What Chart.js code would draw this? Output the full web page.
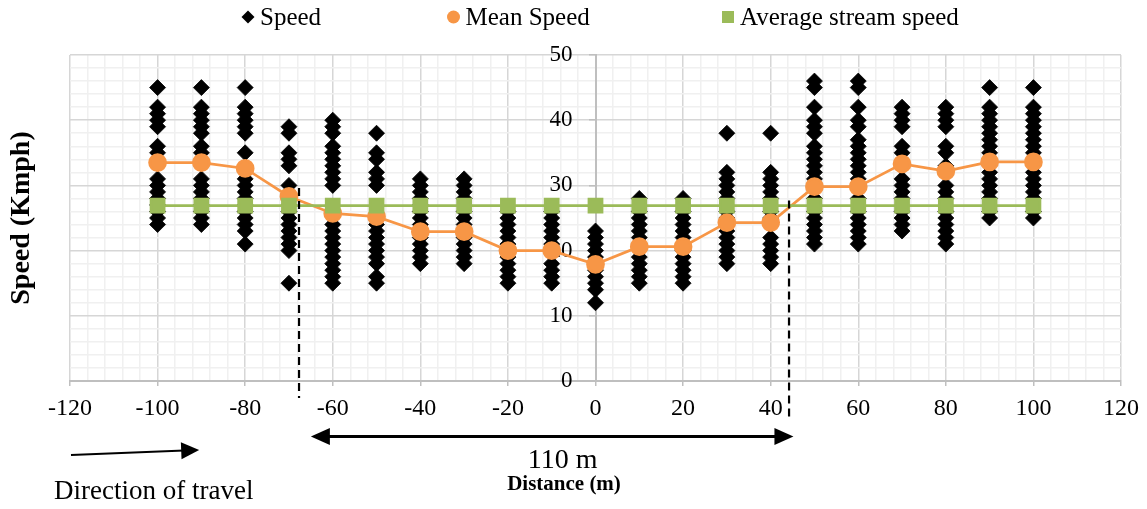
<!DOCTYPE html>
<html>
<head>
<meta charset="utf-8">
<script src="https://cdn.jsdelivr.net/npm/chart.js@4.4.1/dist/chart.umd.min.js"></script>
<style>
  html, body { margin: 0; padding: 0; background: #ffffff; }
  #wrap { width: 1147px; height: 509px; position: relative; }
</style>
</head>
<body>
<div id="wrap"><canvas id="chart"></canvas></div>
<script>
// Measurement stations along the road (m)
const distances = [-100, -90, -80, -70, -60, -50, -40, -30, -20, -10, 0, 10, 20, 30, 40, 50, 60, 70, 80, 90, 100];

// Individual spot speeds recorded at each station (km/h)
const speedSamples = [
  [45, 42, 41, 40, 39, 36, 35, 31, 30, 29, 28, 27, 26, 25, 24],
  [45, 42, 41, 40, 39, 38, 36, 35, 31, 30, 29, 28, 27, 26, 25, 24],
  [45, 42, 41, 40, 39, 38, 35, 31, 30, 29, 28, 27, 26, 25, 24, 23, 21],
  [39, 38, 35, 34, 33, 30, 27, 26, 25, 24, 23, 22, 21, 20, 15],
  [40, 39, 38, 36, 35, 34, 33, 32, 31, 30, 24, 23, 22, 21, 20, 19, 18, 17, 16, 15],
  [38, 35, 34, 32, 31, 30, 24, 23, 22, 21, 20, 19, 18, 16, 15],
  [31, 30, 29, 28, 27, 26, 25, 24, 22, 21, 20, 19, 18],
  [31, 30, 29, 28, 26, 25, 24, 23, 22, 21, 20, 19, 18],
  [26, 25, 24, 23, 22, 21, 19, 18, 17, 16, 15],
  [26, 25, 24, 23, 22, 21, 20, 18, 17, 16, 15],
  [23, 22, 21, 20, 19, 17, 16, 15, 14, 12],
  [28, 26, 25, 24, 23, 22, 21, 19, 18, 17, 16, 15],
  [28, 26, 25, 24, 23, 22, 20, 19, 18, 17, 16, 15],
  [38, 32, 31, 30, 29, 28, 26, 25, 23, 22, 21, 20, 19, 18],
  [38, 32, 31, 30, 29, 28, 26, 25, 24, 22, 21, 20, 19, 18],
  [46, 45, 42, 40, 39, 38, 36, 35, 34, 33, 32, 31, 30, 28, 26, 25, 24, 23, 22, 21],
  [46, 45, 42, 40, 39, 37, 36, 35, 34, 33, 32, 31, 30, 28, 26, 25, 24, 23, 22, 21],
  [42, 41, 40, 39, 36, 35, 31, 30, 29, 28, 26, 25, 24, 23],
  [42, 41, 40, 39, 36, 35, 33, 30, 29, 28, 26, 25, 24, 23, 22, 21],
  [45, 42, 41, 40, 39, 38, 37, 36, 35, 34, 32, 31, 30, 29, 28, 26, 25],
  [45, 42, 41, 40, 39, 38, 37, 36, 35, 34, 32, 31, 30, 29, 28, 26, 25]
];

// Mean speed at each station (km/h)
const meanSpeed = [33.5, 33.5, 32.6, 28.3, 25.7, 25.2, 22.9, 22.9, 20.0, 20.0, 17.9, 20.6, 20.6, 24.3, 24.3, 29.8, 29.8, 33.3, 32.2, 33.6, 33.6];

// Average stream speed (km/h), same at every station
const streamSpeed = [26.9, 26.9, 26.9, 26.9, 26.9, 26.9, 26.9, 26.9, 26.9, 26.9, 26.9, 26.9, 26.9, 26.9, 26.9, 26.9, 26.9, 26.9, 26.9, 26.9, 26.9];

// Labelled ticks on each axis
const xTickLabels = [-120, -100, -80, -60, -40, -20, 0, 20, 40, 60, 80, 100, 120];
const yTickLabels = [0, 10, 20, 30, 40, 50];

// Extent of the influence zone (m) and its annotation
const zoneStart = -67.7;
const zoneEnd = 44.2;
const zoneLabel = '110 m';

const SERIF = '"Liberation Serif", "Times New Roman", serif';
const MAJOR_GRID = '#d6d6d6';
const MINOR_GRID = '#f0f0f0';
const AXIS_LINE = '#bfbfbf';

const speedPoints = [];
distances.forEach((d, i) => speedSamples[i].forEach(v => speedPoints.push({ x: d, y: v })));
const meanPoints = distances.map((d, i) => ({ x: d, y: meanSpeed[i] }));
const streamPoints = distances.map((d, i) => ({ x: d, y: streamSpeed[i] }));

function arrowHead(ctx, tipX, tipY, angle, len, half) {
  const c = Math.cos(angle), s = Math.sin(angle);
  const bx = tipX - len * c, by = tipY - len * s;
  ctx.beginPath();
  ctx.moveTo(tipX, tipY);
  ctx.lineTo(bx + half * s, by - half * c);
  ctx.lineTo(bx - half * s, by + half * c);
  ctx.closePath();
  ctx.fill();
}

function drawMarker(ctx, style, x, y, color) {
  ctx.fillStyle = color;
  ctx.beginPath();
  if (style === 'rectRot') {
    const r = 6.5;
    ctx.moveTo(x, y - r); ctx.lineTo(x + r, y); ctx.lineTo(x, y + r); ctx.lineTo(x - r, y);
    ctx.closePath();
  } else if (style === 'circle') {
    ctx.arc(x, y, 6.5, 0, Math.PI * 2);
  } else {
    ctx.rect(x - 6, y - 6, 12, 12);
  }
  ctx.fill();
}

const overlay = {
  id: 'overlay',
  afterDraw(chart) {
    const { ctx, chartArea } = chart;
    const xs = chart.scales.x, ys = chart.scales.y;
    const bottom = chartArea.bottom;
    ctx.save();

    // Legend across the top
    const legendX = [248, 453.5, 728];
    ctx.font = '25px ' + SERIF;
    ctx.textBaseline = 'middle';
    ctx.textAlign = 'left';
    chart.data.datasets.forEach((ds, i) => {
      drawMarker(ctx, ds.pointStyle, legendX[i], 17, ds.backgroundColor);
      ctx.fillStyle = '#000';
      ctx.fillText(ds.label, legendX[i] + 12, 18);
    });

    // Y axis title
    ctx.save();
    ctx.translate(22, 218);
    ctx.rotate(-Math.PI / 2);
    ctx.font = 'bold 28px ' + SERIF;
    ctx.textAlign = 'center';
    ctx.textBaseline = 'middle';
    ctx.fillStyle = '#000';
    ctx.fillText('Speed (Kmph)', 0, 0);
    ctx.restore();

    // Zone boundaries (dashed)
    ctx.strokeStyle = '#000';
    ctx.lineWidth = 2.2;
    ctx.setLineDash([8, 5]);
    const x1 = xs.getPixelForValue(zoneStart);
    const x2 = xs.getPixelForValue(zoneEnd);
    ctx.beginPath();
    ctx.moveTo(x1, ys.getPixelForValue(29.6));
    ctx.lineTo(x1, bottom + 17);
    ctx.moveTo(x2, ys.getPixelForValue(27.7));
    ctx.lineTo(x2, bottom + 39);
    ctx.stroke();
    ctx.setLineDash([]);

    // Double-headed dimension arrow
    const ay = bottom + 55.5;
    const ax1 = xs.getPixelForValue(-65);
    const ax2 = xs.getPixelForValue(45.2);
    ctx.fillStyle = '#000';
    ctx.lineWidth = 3;
    ctx.beginPath();
    ctx.moveTo(ax1 + 15, ay);
    ctx.lineTo(ax2 - 15, ay);
    ctx.stroke();
    arrowHead(ctx, ax1, ay, Math.PI, 19, 8.5);
    arrowHead(ctx, ax2, ay, 0, 19, 8.5);

    ctx.font = '28px ' + SERIF;
    ctx.textAlign = 'center';
    ctx.textBaseline = 'alphabetic';
    ctx.fillText(zoneLabel, xs.getPixelForValue(-7.5), bottom + 87);

    // X axis title
    ctx.font = 'bold 21px ' + SERIF;
    ctx.fillText('Distance (m)', 564, 490);

    // Direction of travel arrow and caption
    const dx1 = xs.getPixelForValue(-120) + 1, dy1 = bottom + 74;
    const dx2 = xs.getPixelForValue(-90.5), dy2 = bottom + 69;
    const ang = Math.atan2(dy2 - dy1, dx2 - dx1);
    ctx.lineWidth = 2;
    ctx.beginPath();
    ctx.moveTo(dx1, dy1);
    ctx.lineTo(dx2 - 15 * Math.cos(ang), dy2 - 15 * Math.sin(ang));
    ctx.stroke();
    arrowHead(ctx, dx2, dy2, ang, 18, 8.5);

    ctx.font = '27px ' + SERIF;
    ctx.textAlign = 'left';
    ctx.fillText('Direction of travel', 54, 499);

    ctx.restore();
  }
};

const isMajorX = v => xTickLabels.includes(Math.round(v));
const isMajorY = v => yTickLabels.includes(Math.round(v));

new Chart(document.getElementById('chart'), {
  type: 'scatter',
  data: {
    datasets: [
      {
        label: 'Speed',
        data: speedPoints,
        pointStyle: 'rectRot',
        pointRadius: 8,
        backgroundColor: '#000000',
        borderColor: '#000000',
        borderWidth: 0.8,
        order: 3
      },
      {
        label: 'Mean Speed',
        type: 'line',
        data: meanPoints,
        pointStyle: 'circle',
        pointRadius: 8,
        borderColor: '#F79646',
        backgroundColor: '#F79646',
        borderWidth: 2.75,
        tension: 0,
        fill: false,
        order: 2
      },
      {
        label: 'Average stream speed',
        type: 'line',
        data: streamPoints,
        pointStyle: 'rect',
        pointRadius: 9.2,
        borderColor: '#9BBB59',
        backgroundColor: '#9BBB59',
        borderWidth: 2.75,
        tension: 0,
        fill: false,
        order: 1
      }
    ]
  },
  options: {
    responsive: true,
    maintainAspectRatio: false,
    animation: false,
    events: [],
    layout: { padding: { left: 70, right: 24, top: 55, bottom: 88 } },
    plugins: {
      legend: { display: false },
      tooltip: { enabled: false }
    },
    scales: {
      x: {
        type: 'linear',
        position: 'bottom',
        min: -120,
        max: 120,
        afterFit: s => { s.height = 40; },
        ticks: {
          stepSize: 4,
          autoSkip: false,
          maxRotation: 0,
          padding: 8,
          color: '#000',
          font: { family: SERIF, size: 24 },
          callback: v => isMajorX(v) && Math.abs(v - Math.round(v)) < 1e-6 ? String(Math.round(v)) : ''
        },
        grid: {
          color: c => (c.tick && isMajorX(c.tick.value)) ? MAJOR_GRID : MINOR_GRID,
          lineWidth: 1.5,
          tickLength: 5,
          tickColor: c => (c.tick && isMajorX(c.tick.value)) ? AXIS_LINE : 'rgba(0,0,0,0)'
        },
        border: { color: AXIS_LINE, width: 2 }
      },
      y: {
        type: 'linear',
        position: { x: 0 },
        min: 0,
        max: 50,
        ticks: {
          stepSize: 2,
          autoSkip: false,
          color: '#000',
          font: { family: SERIF, size: 23 },
          callback: v => isMajorY(v) ? String(Math.round(v)) + '\u2003' : ''
        },
        grid: {
          color: c => (c.tick && isMajorY(c.tick.value)) ? MAJOR_GRID : MINOR_GRID,
          lineWidth: 1.5,
          tickLength: 6,
          tickColor: c => (c.tick && isMajorY(c.tick.value)) ? AXIS_LINE : 'rgba(0,0,0,0)'
        },
        border: { color: AXIS_LINE, width: 2 }
      }
    }
  },
  plugins: [overlay]
});
</script>
</body>
</html>
